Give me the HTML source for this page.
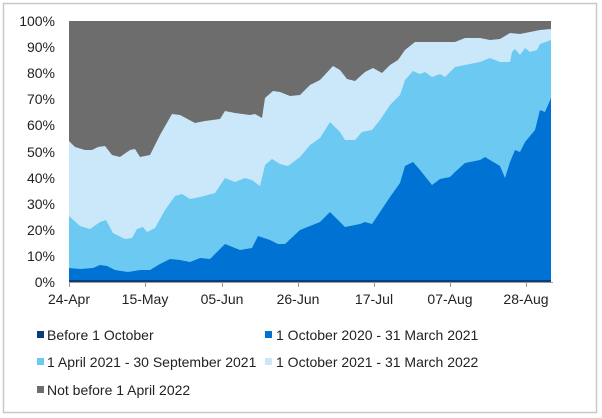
<!DOCTYPE html>
<html><head><meta charset="utf-8"><style>
body{margin:0;background:#fff;}
svg{display:block;font-family:"Liberation Sans",Arial,sans-serif;}
</style></head><body>
<svg width="602" height="418" viewBox="0 0 602 418">
<rect x="0" y="0" width="602" height="418" fill="#fff"/>
<rect x="3.5" y="3.5" width="593" height="409" fill="none" stroke="#c8c8c8" stroke-width="1.5"/>
<!-- gray background -->
<rect x="69" y="21" width="482" height="261" fill="#6d6d6d"/>
<!-- lightest -->
<polygon fill="#cbe8fb" points="69,282 69,141 75,147 85,150 92,150 98,147 105,146 112,155 120,157 130,150 135,149 140,157 150,155 160,135 172,114 180,115 195,123 205,121 220,119 225,111 235,113 250,115 255,114 262,118 265,98 273,91 280,92 290,96 300,95 310,85 320,80 333,66 340,70 347,79 355,81 365,72 373,68 382,73 390,65 398,60 405,50 415,42 430,42 440,42 455,42 465,38 480,38 490,40 500,39 510,33 520,34 530,32 540,30 551,29 551,282"/>
<!-- mid -->
<polygon fill="#6ccaf2" points="69,282 69,216 80,226 90,229 100,222 106,220 113,233 125,239 132,238 137,229 143,227 147,232 155,228 165,210 175,196 182,194 190,199 200,197 215,193 225,178 235,182 245,178 252,180 260,186 265,165 272,159 280,164 288,166 300,157 310,145 320,138 330,122 340,132 345,140 355,140 362,132 372,130 380,120 390,105 400,95 405,80 413,71 420,74 425,72 432,77 440,74 445,77 455,67 465,65 480,62 490,58 500,62 510,62 512,52 515,49 520,55 525,48 530,52 537,50 540,44 551,40 551,282"/>
<!-- dark blue -->
<polygon fill="#0072d3" points="69,282 69,268 80,269 93,268 100,265 107,266 115,270 128,272 140,270 150,270 160,264 170,259 180,260 190,262 200,258 210,259 225,244 240,250 252,248 258,236 270,240 278,244 285,244 300,230 320,222 330,212 345,227 360,224 365,222 372,224 380,212 390,197 400,183 405,166 413,162 420,170 432,185 440,179 450,177 455,172 465,163 480,160 485,157 490,160 500,166 505,178 510,162 515,150 520,152 525,142 535,130 540,110 545,112 551,98 551,282"/>
<rect x="69" y="280" width="482" height="2" fill="#0b3d78"/>
<line x1="69" y1="282.5" x2="553" y2="282.5" stroke="#999" stroke-width="1"/>
<g stroke="#999" stroke-width="1">
<line x1="69.5" y1="282" x2="69.5" y2="287"/><line x1="145.5" y1="282" x2="145.5" y2="287"/><line x1="222.5" y1="282" x2="222.5" y2="287"/><line x1="298.5" y1="282" x2="298.5" y2="287"/><line x1="374.5" y1="282" x2="374.5" y2="287"/><line x1="450.5" y1="282" x2="450.5" y2="287"/><line x1="526.5" y1="282" x2="526.5" y2="287"/>
</g>
<g font-size="14" fill="#222" text-anchor="end">
<text x="55" y="287">0%</text><text x="55" y="261">10%</text><text x="55" y="235">20%</text><text x="55" y="209">30%</text><text x="55" y="183">40%</text><text x="55" y="157">50%</text><text x="55" y="130">60%</text><text x="55" y="104">70%</text><text x="55" y="78">80%</text><text x="55" y="52">90%</text><text x="55" y="26">100%</text>
</g>
<g font-size="14" fill="#222" text-anchor="middle">
<text x="69" y="304">24-Apr</text><text x="145" y="304">15-May</text><text x="222" y="304">05-Jun</text><text x="298" y="304">26-Jun</text><text x="374" y="304">17-Jul</text><text x="450" y="304">07-Aug</text><text x="526" y="304">28-Aug</text>
</g>
<g font-size="14" fill="#222">
<rect x="37" y="331" width="7" height="7" fill="#0b3d78"/><text x="47" y="340">Before 1 October</text>
<rect x="265" y="331" width="7" height="7" fill="#0072d3"/><text x="276" y="340">1 October 2020 - 31 March 2021</text>
<rect x="37" y="358" width="7" height="7" fill="#6ccaf2"/><text x="47" y="367">1 April 2021 - 30 September 2021</text>
<rect x="265" y="358" width="7" height="7" fill="#cbe8fb"/><text x="276" y="367">1 October 2021 - 31 March 2022</text>
<rect x="37" y="386" width="7" height="7" fill="#6d6d6d"/><text x="47" y="395">Not before 1 April 2022</text>
</g>
</svg>
</body></html>
